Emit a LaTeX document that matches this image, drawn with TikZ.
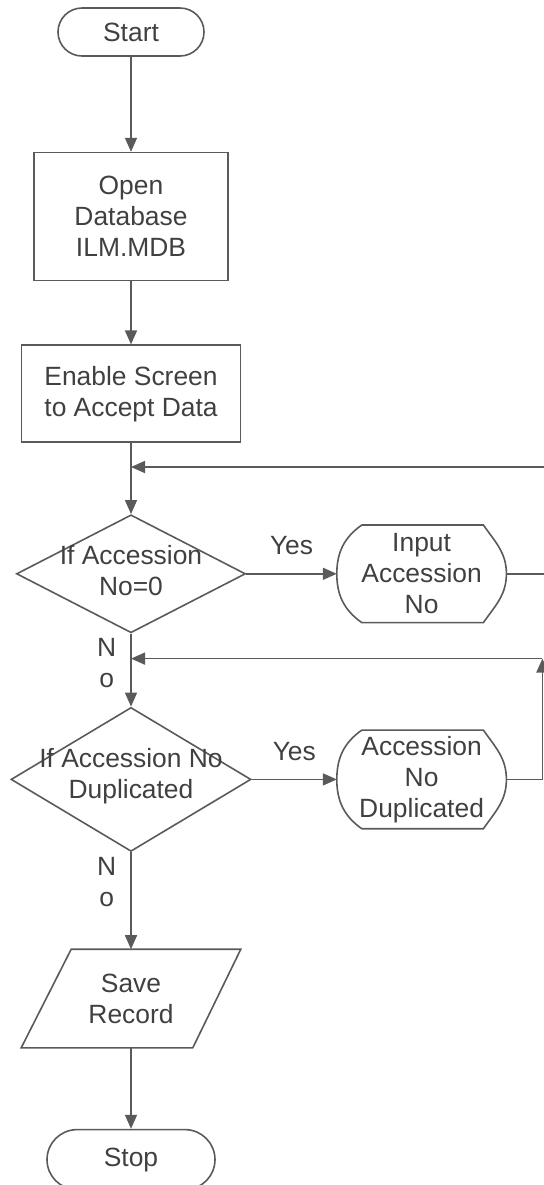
\documentclass[tikz,border=0pt]{standalone}
\usepackage{fontspec}
\setmainfont{Liberation Sans}
\usetikzlibrary{arrows.meta,positioning,shapes.geometric,shapes.misc}
\definecolor{ink}{HTML}{5A5A5A}
\definecolor{txt}{HTML}{404040}

\begin{document}
\begin{tikzpicture}[node distance=5mm and 7mm,
  base/.style={draw=ink,line width=0.8pt,text=txt,align=center,inner sep=0pt,
               font=\fontsize{13.2pt}{15.5pt}\selectfont},
  term/.style={base,rounded rectangle,minimum height=24pt},
  proc/.style={base,rectangle},
  decision/.style={base,diamond},
  disp/.style={base,draw=none,rectangle,minimum width=84pt,minimum height=48pt},
  io/.style={base,draw=none,rectangle,minimum width=109pt,minimum height=48.5pt},
  lab/.style={text=txt,align=center,inner sep=0pt,
              font=\fontsize{13.2pt}{15.5pt}\selectfont},
  line/.style={draw=ink,line width=0.8pt},
  arr/.style={line,-{Triangle[length=7pt,width=6pt]}}]
\useasboundingbox (0,0) rectangle (272pt,-592.5pt);
\node[term,minimum width=73pt] (start) at (65.5pt,-16pt) {Start};
\node[proc,minimum width=97pt,minimum height=64pt,below=47.5pt of start] (open)
  {Open\\Database\\ILM.MDB};
\node[proc,minimum width=109.5pt,minimum height=48.5pt,below=31.5pt of open] (enab)
  {Enable Screen\\to Accept Data};
\node[decision,minimum width=114.5pt,minimum height=59pt,below=35.5pt of enab] (d1) {};
\node[lab] (d1t) at ([yshift=1.5pt]d1) {If Accession\\No=0};
\node[disp,right=45.25pt of d1] (inp) {Input\\Accession\\No};
\node[decision,minimum width=120pt,minimum height=72pt,below=36.5pt of d1] (d2) {};
\node[lab] (d2t) at ([yshift=1.5pt]d2) {If Accession No\\Duplicated};
\node[disp,minimum height=48.5pt,right=42.5pt of d2] (dup) {Accession\\No\\Duplicated};
\node[io,below=48.5pt of d2] (save) {Save\\Record};
\node[term,minimum width=84pt,minimum height=30pt,below=40.5pt of save] (stop) {Stop};
% joints of the two loops
\coordinate[below=12pt of enab] (j1);
\coordinate[below=12.5pt of d1] (j2);
\coordinate[right=40pt of inp] (r1);
\coordinate[right=18pt of dup] (r2);
\coordinate (c2) at (r2 |- j2);
% outline of the display boxes and the data box
\foreach \n in {inp,dup}
  \draw[line] ([xshift=12.5pt]\n.north west) -- ([xshift=-11.5pt]\n.north east)
    to[out=-55,in=90] (\n.east) to[out=-90,in=55] ([xshift=-11.5pt]\n.south east)
    -- ([xshift=12.5pt]\n.south west) to[out=145,in=-90] (\n.west)
    to[out=90,in=-145] ([xshift=12.5pt]\n.north west);
\draw[line] ([xshift=25pt]save.north west) -- (save.north east)
  -- ([xshift=-24pt]save.south east) -- (save.south west) -- cycle;
\draw[arr] (start) -- (open);
\draw[arr] (open) -- (enab);
\draw[arr] (enab) -- (d1);
\draw[arr] (d1) -- node[pos=0.4,left=7pt,lab] (n1) {N\\o} (d2);
\draw[arr] (d2) -- node[pos=0.31,left=7pt,lab] (n2) {N\\o} (save);
\draw[arr] (save) -- (stop);
\draw[arr] (d1) -- node[midway,above=9pt,lab] (y1) {Yes} (inp);
\draw[arr] (d2) -- node[midway,above=9pt,lab] (y2) {Yes} (dup);
\draw[arr] (inp) -- (r1) |- (j1);
\draw[arr] (dup) -- (r2) -- (c2);
\draw[arr] (c2) -- (j2);
\end{tikzpicture}
\end{document}
